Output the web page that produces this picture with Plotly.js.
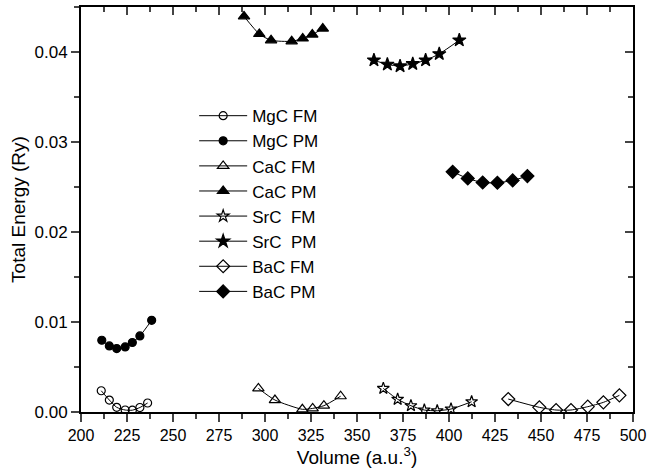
<!DOCTYPE html>
<html>
<head>
<meta charset="utf-8">
<script src="https://cdn.plot.ly/plotly-3.0.1.min.js"></script>
<style>html,body{margin:0;padding:0;background:#fff;}#chart{width:647px;height:474px;}</style>
</head>
<body>
<div id="chart"></div>
<script>
// Series data (volume in a.u.^3, total energy in Ry)
const mgcFmX = [211.0, 215.4, 219.4, 224.0, 227.9, 232.0, 236.2];
const mgcFmY = [0.00236, 0.00133, 0.00052, 0.00022, 0.00020, 0.00050, 0.00100];
const mgcPmX = [211.3, 215.4, 219.4, 224.0, 227.9, 232.0, 238.4];
const mgcPmY = [0.00797, 0.00734, 0.00705, 0.00723, 0.00772, 0.00845, 0.01019];

const cacFmX = [296.4, 305.4, 320.3, 325.9, 332.0, 341.1];
const cacFmY = [0.00262, 0.00133, 0.00030, 0.00040, 0.00070, 0.00175];
const cacPmX = [288.6, 296.9, 303.3, 314.5, 320.5, 325.7, 331.4];
const cacPmY = [0.04396, 0.04200, 0.04130, 0.04119, 0.04150, 0.04194, 0.04260];

const srcFmX = [364.3, 372.1, 379.3, 386.6, 393.6, 401.1, 412.3];
const srcFmY = [0.00262, 0.00141, 0.00070, 0.00022, 0.00014, 0.00033, 0.00114];
const srcPmX = [359.2, 366.5, 373.4, 380.3, 387.3, 394.7, 405.6];
const srcPmY = [0.03909, 0.03862, 0.03843, 0.03868, 0.03909, 0.03979, 0.04131];

const bacFmX = [432.2, 449.1, 458.2, 466.3, 475.4, 483.9, 492.6];
const bacFmY = [0.00144, 0.00052, 0.00022, 0.00022, 0.00059, 0.00107, 0.00185];
const bacPmX = [402.0, 410.2, 418.3, 426.3, 434.6, 442.6];
const bacPmY = [0.02669, 0.02595, 0.02550, 0.02547, 0.02573, 0.02621];

const seriesNames = ['MgC FM', 'MgC PM', 'CaC FM', 'CaC PM', 'SrC\u00a0 FM', 'SrC\u00a0 PM', 'BaC FM', 'BaC PM'];
const xTickVals = [200, 225, 250, 275, 300, 325, 350, 375, 400, 425, 450, 475, 500];
const yTickVals = [0.00, 0.01, 0.02, 0.03, 0.04];
const yTickText = ['0.00', '0.01', '0.02', '0.03', '0.04'];

const xs = [mgcFmX, mgcPmX, cacFmX, cacPmX, srcFmX, srcPmX, bacFmX, bacPmX];
const ys = [mgcFmY, mgcPmY, cacFmY, cacPmY, srcFmY, srcPmY, bacFmY, bacPmY];
const symbols = ['circle-open', 'circle', 'triangle-up-open', 'triangle-up', 'star-open', 'star', 'diamond-open', 'diamond'];
const sizes = [8, 8, 10, 10, 9, 10, 10, 10];
const mlineColors = ['#000', '#000', '#000', '#000', '#000', '#000', '#999', '#000'];

const traces = seriesNames.map((n, i) => ({
  x: xs[i], y: ys[i], name: n, type: 'scatter', mode: 'lines+markers',
  line: {color: '#000', width: 1, shape: 'spline', smoothing: 0.6},
  marker: {symbol: symbols[i], size: sizes[i], color: '#000', line: {color: mlineColors[i], width: 1.2}}
}));
// helper trace for the mirrored (inside-tick) top/right axes
traces.push({x: [], y: [], xaxis: 'x2', yaxis: 'y2', showlegend: false, hoverinfo: 'skip', type: 'scatter', mode: 'markers'});

const fontFam = 'Liberation Sans, Arial, sans-serif';
const layout = {
  width: 647, height: 474,
  margin: {l: 81, r: 14, t: 7, b: 62},
  paper_bgcolor: '#fff', plot_bgcolor: '#fff',
  font: {family: fontFam, color: '#000', size: 16},
  showlegend: true,
  legend: {x: 0.205, y: 0.775, xanchor: 'left', yanchor: 'top', bgcolor: 'rgba(0,0,0,0)',
           font: {size: 17, family: fontFam}, tracegroupgap: 0, itemwidth: 48},
  xaxis: {
    range: [200, 500], tickvals: xTickVals, ticks: 'outside', ticklen: 8, tickwidth: 1.5,
    showline: true, linewidth: 2, linecolor: '#000', showgrid: false, zeroline: false,
    tickfont: {size: 16}, ticklabelstandoff: 0,
    minor: {dtick: 12.5, tick0: 200, ticks: 'outside', ticklen: 5, tickwidth: 1.5, showgrid: false},
    title: {text: 'Volume (a.u.<sup>3</sup>)', font: {size: 19}, standoff: 6}
  },
  yaxis: {
    range: [0, 0.045], tickvals: yTickVals, ticktext: yTickText, ticks: 'outside', ticklen: 8, tickwidth: 1.5,
    showline: true, linewidth: 2, linecolor: '#000', showgrid: false, zeroline: false,
    tickfont: {size: 17},
    minor: {dtick: 0.005, tick0: 0, ticks: 'outside', ticklen: 5, tickwidth: 1.5, showgrid: false},
    title: {text: 'Total Energy (Ry)', font: {size: 19}, standoff: 4}
  },
  xaxis2: {
    overlaying: 'x', side: 'top', range: [200, 500], tickvals: xTickVals, ticks: 'inside', ticklen: 8, tickwidth: 1.5,
    showticklabels: false, showline: true, linewidth: 2, linecolor: '#000', showgrid: false, zeroline: false,
    minor: {dtick: 12.5, tick0: 200, ticks: 'inside', ticklen: 5, tickwidth: 1.5, showgrid: false}
  },
  yaxis2: {
    overlaying: 'y', side: 'right', range: [0, 0.045], tickvals: yTickVals, ticks: 'inside', ticklen: 8, tickwidth: 1.5,
    showticklabels: false, showline: true, linewidth: 2, linecolor: '#000', showgrid: false, zeroline: false,
    minor: {dtick: 0.005, tick0: 0, ticks: 'inside', ticklen: 5, tickwidth: 1.5, showgrid: false}
  }
};

Plotly.newPlot('chart', traces, layout, {staticPlot: true, displayModeBar: false});
</script>
</body>
</html>
